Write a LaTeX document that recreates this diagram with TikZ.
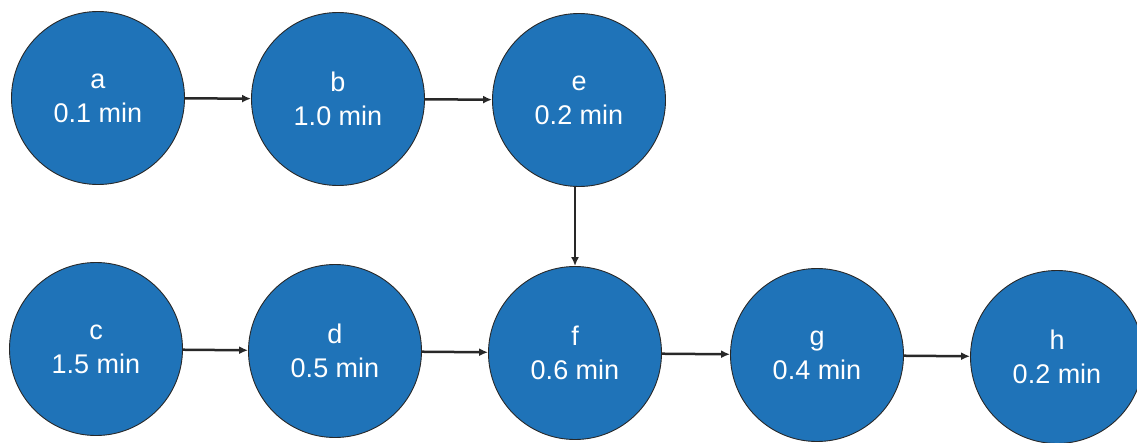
\documentclass[tikz,border=0pt]{standalone}
\usepackage{fontspec}
\setmainfont{Liberation Sans}
\usetikzlibrary{arrows.meta}
\definecolor{nodeblue}{RGB}{31,115,184}
\definecolor{edge}{RGB}{40,40,40}
\begin{document}
\begin{tikzpicture}[x=1pt,y=-1pt,
  task/.style={circle,draw=edge,line width=0.9pt,fill=nodeblue,minimum size=173pt,inner sep=0pt,
    text=white,align=center,font=\fontsize{27}{34}\selectfont},
  conn/.style={draw=edge,line width=2.5pt,-{Latex[length=9pt,width=8pt]}}]
\useasboundingbox (0,0) rectangle (1137,442);
\node[task] (a) at (98,98)  {a\\0.1 min};
\node[task] (b) at (338,99) {b\\1.0 min};
\node[task] (e) at (579,100) {e\\0.2 min};
\node[task] (c) at (96,349) {c\\1.5 min};
\node[task] (d) at (335,351) {d\\0.5 min};
\node[task] (f) at (575,353) {f\\0.6 min};
\node[task] (g) at (817,355) {g\\0.4 min};
\node[task] (h) at (1057,357) {h\\0.2 min};
\draw[conn] (a) -- (b);
\draw[conn] (b) -- (e);
\draw[conn] (e.south -| f.north) -- (f.north);
\draw[conn] (c) -- (d);
\draw[conn] (d) -- (f);
\draw[conn] (f) -- (g);
\draw[conn] (g) -- (h);
\end{tikzpicture}
\end{document}
